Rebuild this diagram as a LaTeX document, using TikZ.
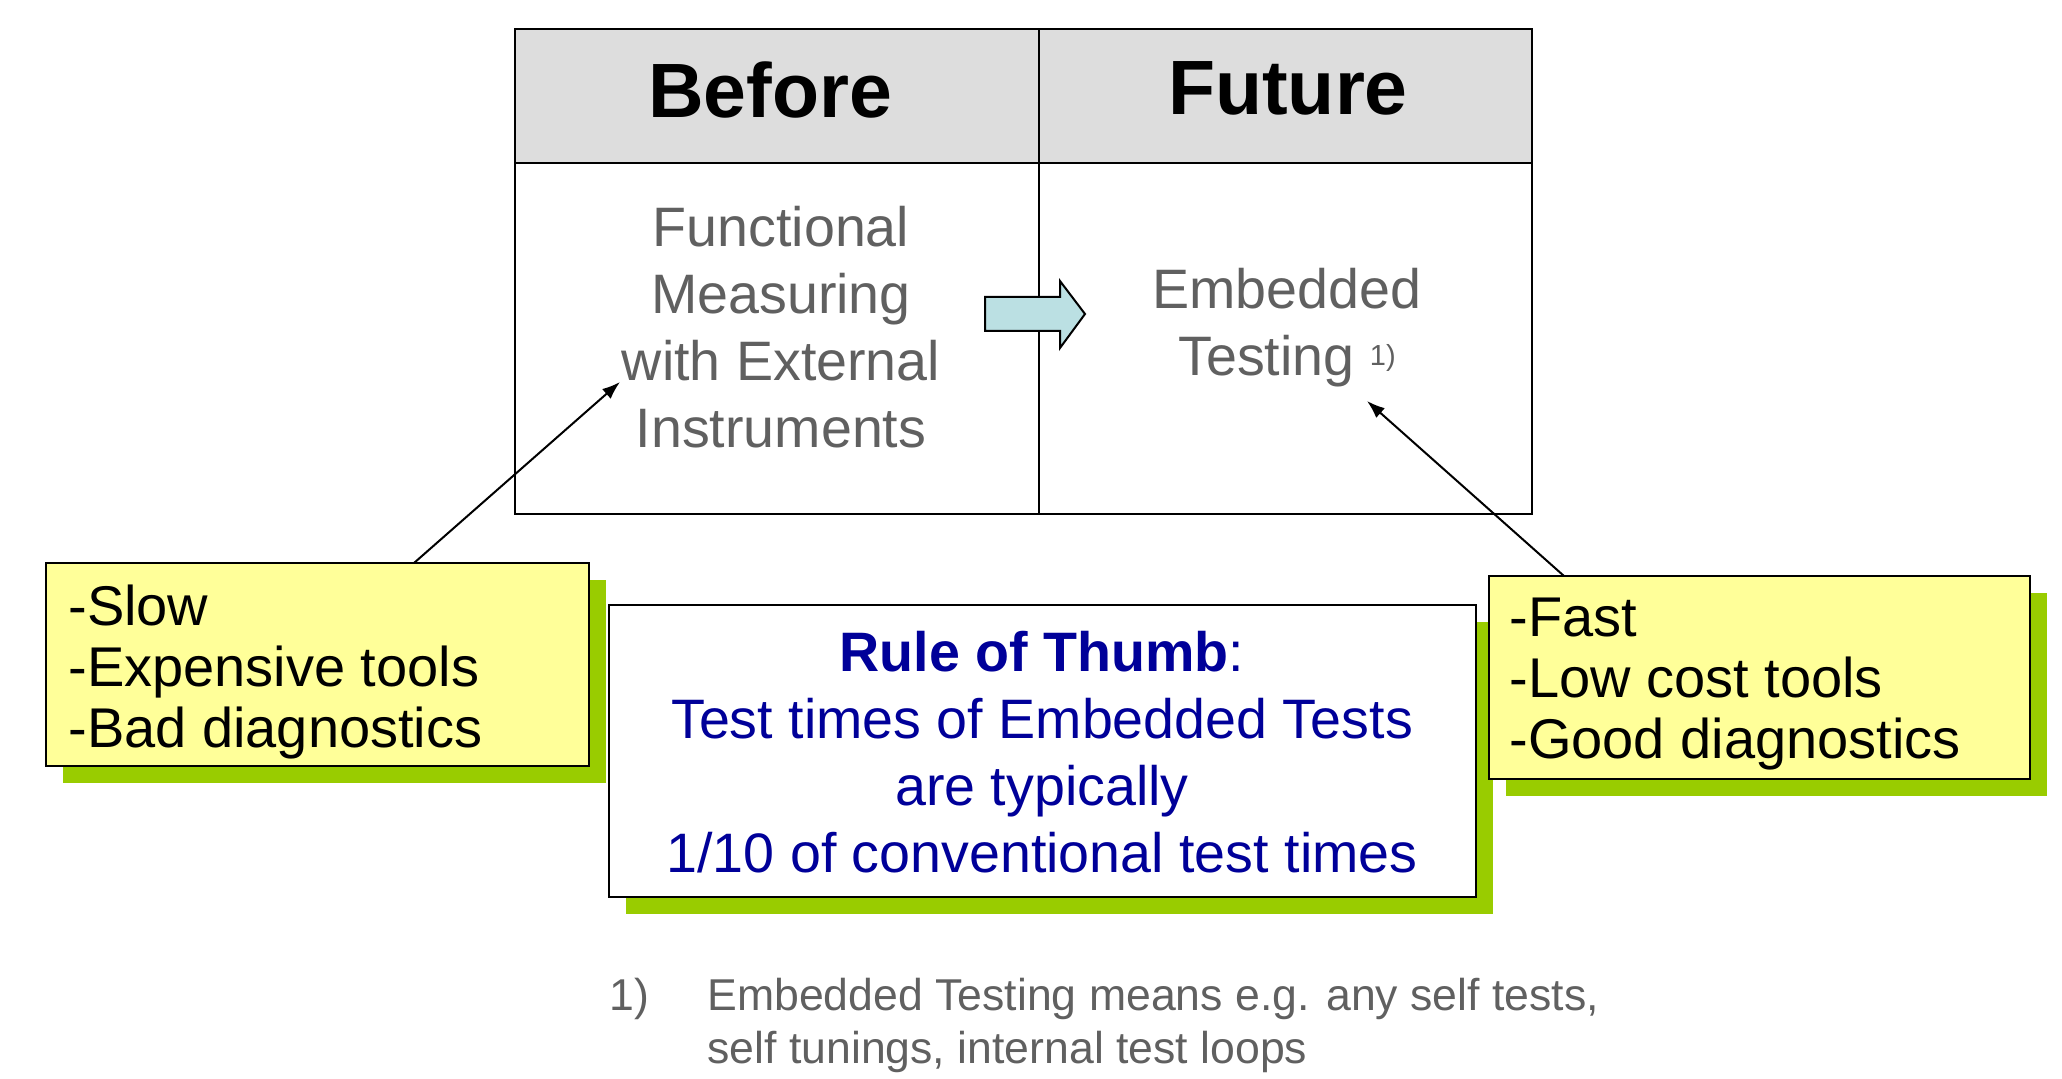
\documentclass[tikz,border=0pt]{standalone}
\usepackage{fontspec}
\setmainfont{Liberation Sans}
\usetikzlibrary{arrows.meta,shadows}
\definecolor{hdrgray}{HTML}{DDDDDD}
\definecolor{txtgray}{HTML}{606060}
\definecolor{noteyellow}{HTML}{FFFF99}
\definecolor{shgreen}{HTML}{99CC00}
\definecolor{navy}{HTML}{000099}
\definecolor{arrowcyan}{HTML}{BBE0E3}
\tikzset{
  cell/.style={draw=black, line width=1pt, inner sep=0pt},
  notebox/.style={draw=black, line width=1pt, inner sep=0pt,
    general shadow={fill=shgreen, shadow xshift=8.5pt, shadow yshift=-8.5pt}},
  hdrtext/.style={inner sep=0pt, font=\fontsize{38.5}{40}\selectfont\bfseries},
  celltext/.style={inner sep=0pt, align=center, text=txtgray, font=\fontsize{27.8}{33.5}\selectfont},
  listtext/.style={inner sep=0pt, align=left, text=black, font=\fontsize{28}{30.5}\selectfont},
  ruletext/.style={inner sep=0pt, align=center, text=navy, font=\fontsize{27.8}{33.5}\selectfont},
  foottext/.style={inner sep=0pt, align=left, text=txtgray, font=\fontsize{22.3}{26.3}\selectfont},
  pointer/.style={draw=black, line width=1pt, -{Latex[length=9pt,width=6.5pt]}}
}
\begin{document}
\begin{tikzpicture}[x=0.5pt,y=-0.5pt]
\useasboundingbox (0,0) rectangle (2062,1079);
% table cells
\node[cell, fill=hdrgray, minimum width=262pt, minimum height=67pt] (hbefore) at (777,96) {};
\node[cell, fill=hdrgray, minimum width=246.5pt, minimum height=67pt] (hfuture) at (1285.5,96) {};
\node[cell, fill=white, minimum width=262pt, minimum height=175.5pt] (bbefore) at (777,338.5) {};
\node[cell, fill=white, minimum width=246.5pt, minimum height=175.5pt] (bfuture) at (1285.5,338.5) {};
\node[hdrtext] (tbefore) at (770,90) {Before};
\node[hdrtext] (tfuture) at (1288,88) {Future};
\node[celltext, anchor=north] (tfunc) at (781,206) {Functional\\Measuring\\with External\\Instruments};
\node[celltext, anchor=north] (temb) at (1287,268) {Embedded\\Testing \raisebox{5pt}{\fontsize{14.5}{15}\selectfont 1)}};
% block arrow
\draw[line width=1pt, fill=arrowcyan, line join=miter] (985,297) -- (1060,297) -- (1060,281) -- (1085,314) -- (1060,348) -- (1060,331) -- (985,331) -- cycle;
% note boxes
\node[notebox, fill=noteyellow, minimum width=271.5pt, minimum height=101.5pt] (lbox) at (317.5,664.5) {};
\node[listtext, anchor=north west] (ltext) at (68,585) {-Slow\\-Expensive tools\\-Bad diagnostics};
\node[notebox, fill=white, minimum width=433.5pt, minimum height=146pt] (mbox) at (1042.5,751) {};
\node[ruletext, anchor=north] (mtext) at (1042,631) {\textbf{Rule of Thumb}:\\Test times of Embedded Tests\\are typically\\1/10 of conventional test times};
\node[notebox, fill=noteyellow, minimum width=270.5pt, minimum height=101.5pt] (rbox) at (1759.5,677.5) {};
\node[listtext, anchor=north west] (rtext) at (1509,598) {-Fast\\-Low cost tools\\-Good diagnostics};
% pointers
\coordinate (lfrom) at (414,563);
\coordinate (ltip) at (620,382);
\coordinate (rfrom) at (1564,576);
\coordinate (rtip) at (1367,401);
\draw[pointer] (lfrom) -- (ltip);
\draw[pointer] (rfrom) -- (rtip);
% footnote
\node[foottext, anchor=north west] (fnum) at (609,978) {1)};
\node[foottext, anchor=north west] (ftext) at (707,978) {Embedded Testing means e.g. any self tests,\\self tunings, internal test loops};
\end{tikzpicture}
\end{document}
